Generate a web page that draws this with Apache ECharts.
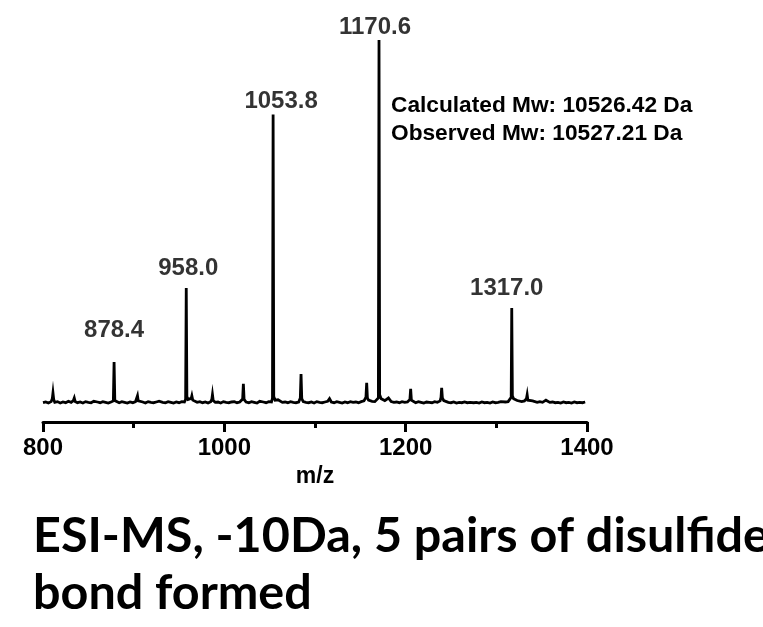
<!DOCTYPE html>
<html>
<head>
<meta charset="utf-8">
<script src="https://cdn.jsdelivr.net/npm/echarts@6/dist/echarts.min.js"></script>
<style>
html,body{margin:0;padding:0;background:#fff;}
#chart{width:763px;height:627px;}
</style>
</head>
<body>
<div id="chart"></div>
<script>
// ---- data (m/z vs relative intensity, %) ----
const spectrumMz = [800,803,806,809,810.3,811,811.8,813,816,819,822,825,828,831,833.5,834.5,835.5,838,841,844,847,850,853,856,858,860,863,866,869,872,875,877.6,878.4,879.2,881,884,887,890,893,896,899,902,903.4,904.2,905,907,910,913,916,919,922,925,928,930,932,935,938,941,944,947,950,953,956,957.3,958.0,958.7,960,962,963.5,964.2,965.2,967,970,973,976,979,982,985,986.2,986.9,987.7,990,993,996,999,1002,1005,1008,1011,1014,1017,1020.2,1021,1021.8,1024,1027,1030,1033,1036,1039,1041,1043,1046,1049,1052,1053.1,1053.8,1054.5,1056,1058,1059.2,1061,1064,1067,1070,1073,1076,1079,1082,1083.8,1084.6,1085.4,1087,1090,1093,1096,1099,1102,1105,1108,1111,1114,1116,1118,1121,1124,1127,1130,1133,1136,1139,1142,1145,1148,1151,1154,1156.2,1157,1157.8,1159,1161,1163,1166,1168,1169.9,1170.6,1171.3,1173,1175,1177,1179,1181,1182.2,1184,1187,1190,1193,1196,1199,1202,1204.7,1205.5,1206.3,1208,1211,1214,1217,1220,1223,1226,1229,1232,1235,1238,1239,1239.7,1240.5,1242,1244,1247,1250,1253,1256,1259,1262,1265,1268,1271,1273,1275,1278,1281,1284,1287,1290,1293,1296,1299,1302,1305,1307,1310,1313,1315,1316.4,1317.0,1317.7,1319,1321,1323,1325,1328,1331,1333.2,1334,1334.8,1337,1340,1342,1345,1348,1351,1354.7,1355.5,1356.3,1359,1362,1365,1368,1371,1374,1377,1380,1383,1386,1389,1392,1395,1398];
const spectrumIntensity = [0.3,0.5,0.2,0.6,1.5,3.0,1.2,0.4,0.6,0.2,0.5,0.3,0.7,0.4,0.9,1.6,0.6,0.3,0.5,0.2,0.6,0.4,0.3,0.7,1.1,0.5,0.3,0.6,0.4,0.2,0.5,0.8,11.5,0.9,0.5,0.3,0.6,0.4,0.2,0.5,0.3,0.6,1.0,2.2,0.8,0.4,0.5,0.2,0.6,0.4,0.3,0.5,0.7,1.1,0.4,0.3,0.6,0.4,0.2,0.5,0.3,0.6,0.5,1.2,31.8,2.0,1.2,1.0,1.5,2.2,1.0,0.5,0.4,0.6,0.3,0.5,0.2,0.6,1.2,2.5,0.9,0.4,0.5,0.2,0.6,0.4,0.3,0.5,0.6,0.3,0.5,1.3,5.5,1.2,0.5,0.3,0.6,0.4,0.2,0.7,1.1,0.5,0.3,0.6,0.5,1.5,79.5,2.0,1.0,0.8,1.1,0.6,0.4,0.5,0.3,0.6,0.4,0.3,0.5,1.6,8.2,1.4,0.6,0.4,0.3,0.5,0.2,0.6,0.4,0.3,0.5,0.7,1.4,0.5,0.3,0.6,0.4,0.2,0.5,0.3,0.6,0.4,0.5,0.3,0.6,0.8,1.8,5.8,1.6,1.0,0.9,0.7,0.6,0.8,1.6,100,2.5,1.4,1.2,0.9,1.0,1.6,1.2,0.6,0.4,0.5,0.3,0.6,0.4,0.5,1.2,4.1,1.0,0.5,0.3,0.6,0.4,0.2,0.5,0.4,0.3,0.6,0.4,0.8,1.8,4.4,1.6,0.9,0.5,0.4,0.3,0.5,0.2,0.4,0.3,0.5,0.3,0.4,0.6,0.3,0.4,0.2,0.5,0.3,0.4,0.2,0.5,0.3,0.4,0.6,0.8,0.5,0.6,0.8,1.8,26.3,2.2,1.4,1.0,0.9,0.7,0.6,0.8,1.4,2.5,1.0,0.6,0.8,0.5,0.4,0.6,0.4,1.0,1.4,0.7,0.4,0.5,0.3,0.4,0.2,0.5,0.3,0.4,0.2,0.5,0.3,0.4,0.3,0.5];

const peakMz = [878.4, 958.0, 1053.8, 1170.6, 1317.0];
const peakIntensity = [11.5, 31.8, 79.5, 100, 26.3];
const peakLabels = ['878.4', '958.0', '1053.8', '1170.6', '1317.0'];

const xTicks = [800, 1000, 1200, 1400];
const annotationLines = ['Calculated Mw: 10526.42 Da', 'Observed Mw: 10527.21 Da'];
const captionLines = ['ESI-MS, -10Da, 5 pairs of disulfide', 'bond formed'];
const xAxisName = 'm/z';

// ---- layout / style (not data) ----
const labelShift = [[0, -16], [2, -4], [8, 3], [-4, 3], [-5, -4]];
const FONT = '"Liberation Sans", Arial, sans-serif';
const sansBold = { fontFamily: FONT, fontWeight: 'bold', color: '#000' };

const chart = echarts.init(document.getElementById('chart'), null, { renderer: 'canvas' });

const lineData = spectrumMz.map((m, i) => [m, spectrumIntensity[i]]);
const peakData = peakMz.map((m, i) => ({
  value: [m, peakIntensity[i]],
  name: peakLabels[i],
  label: { offset: labelShift[i] }
}));

chart.setOption({
  backgroundColor: '#fff',
  animation: false,
  grid: { left: 43, right: 176, top: 40, bottom: 205, containLabel: false },
  xAxis: {
    type: 'value',
    min: xTicks[0],
    max: xTicks[xTicks.length - 1],
    interval: 200,
    name: xAxisName,
    nameLocation: 'middle',
    nameGap: 39,
    nameTextStyle: Object.assign({ fontSize: 23 }, sansBold),
    axisLine: { show: true, onZero: false, lineStyle: { color: '#000', width: 3 } },
    axisTick: { show: true, length: 10, lineStyle: { color: '#000', width: 3 } },
    minorTick: { show: true, splitNumber: 2, length: 6, lineStyle: { color: '#000', width: 3 } },
    axisLabel: Object.assign({ fontSize: 24, margin: 14, formatter: v => String(v) }, sansBold),
    splitLine: { show: false },
    minorSplitLine: { show: false }
  },
  yAxis: {
    type: 'value',
    min: -5,
    max: 100,
    show: false,
    splitLine: { show: false }
  },
  series: [
    {
      type: 'line',
      data: lineData,
      showSymbol: false,
      symbol: 'none',
      lineStyle: { color: '#000', width: 2.8, join: 'miter' },
      clip: false,
      z: 2
    },
    {
      type: 'scatter',
      data: peakData,
      symbolSize: 0,
      label: Object.assign({
        show: true,
        position: 'top',
        distance: 4,
        fontSize: 24,
        formatter: p => p.name
      }, sansBold),
      z: 3
    }
  ],
  graphic: [
    {
      type: 'text',
      left: 391,
      top: 92,
      style: {
        text: annotationLines.join('\n'),
        fontSize: 22.7,
        fontWeight: 'bold',
        fontFamily: FONT,
        lineHeight: 28,
        fill: '#000'
      }
    },
    {
      type: 'text',
      left: 33,
      top: 508,
      style: {
        text: captionLines.join('\n'),
        fontSize: 48.5,
        fontWeight: 'bold',
        fontFamily: 'Lato, "Open Sans", sans-serif',
        lineHeight: 57,
        fill: '#000'
      }
    }
  ]
});
</script>
</body>
</html>
